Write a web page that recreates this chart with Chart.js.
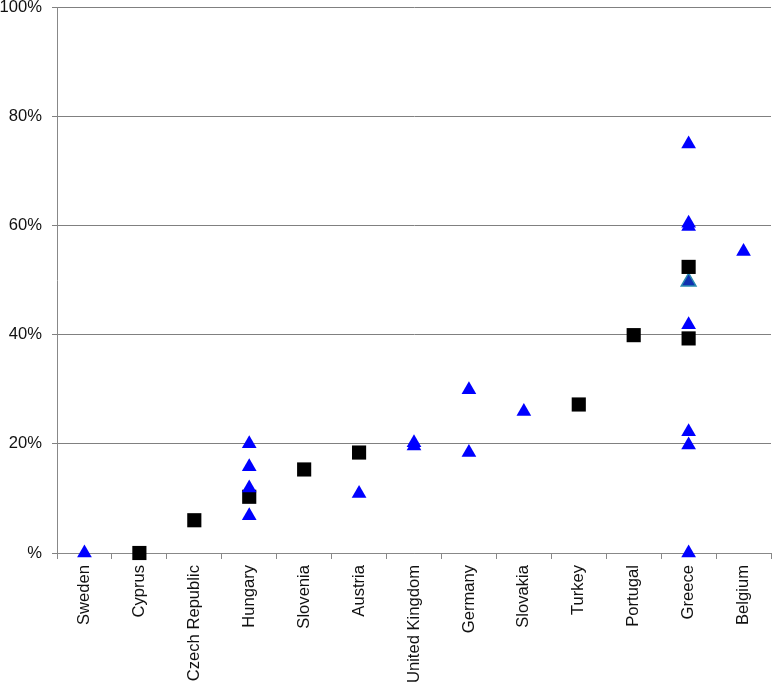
<!DOCTYPE html>
<html>
<head>
<meta charset="utf-8">
<script src="https://cdn.jsdelivr.net/npm/chart.js@4/dist/chart.umd.min.js"></script>
<style>
  body { margin: 0; background: #fff; }
  #box { width: 776px; height: 685px; }
</style>
</head>
<body>
<div id="box"><canvas id="myChart"></canvas></div>
<script>
let countries = ["Sweden", "Cyprus", "Czech Republic", "Hungary", "Slovenia", "Austria",
  "United Kingdom", "Germany", "Slovakia", "Turkey", "Portugal", "Greece", "Belgium"]

// black squares
let squareCountries = ["Cyprus", "Czech Republic", "Hungary", "Slovenia", "Austria", "Turkey", "Portugal", "Greece", "Greece"]
let squareValues = [0, 6, 10.3, 15.3, 18.4, 27.2, 39.9, 52.4, 39.3]

// blue triangles
let triCountries = ["Sweden", "Hungary", "Hungary", "Hungary", "Hungary", "Austria",
  "United Kingdom", "United Kingdom", "Germany", "Germany", "Slovakia",
  "Greece", "Greece", "Greece", "Greece", "Greece", "Greece", "Greece", "Belgium"]
let triValues = [0, 20, 15.8, 11.9, 6.8, 10.9,
  20.2, 19.6, 29.9, 18.4, 25.9,
  74.9, 60.4, 59.8, 41.8, 22.2, 19.8, 0, 55.2]

// the one triangle with a darker edge (sits under the square)
let edgeTriCountries = ["Greece"]
let edgeTriValues = [49.7]

let yTicks = [0, 20, 40, 60, 80, 100]

function points(cats, vals) {
  return cats.map((c, i) => ({ x: c, y: vals[i] }))
}

const ctx = document.getElementById('myChart');

new Chart(ctx, {
  type: 'line',
  data: {
    labels: countries,
    datasets: [
      {
        label: 'triangles',
        data: points(triCountries, triValues),
        showLine: false,
        clip: false,
        pointStyle: 'triangle',
        pointRadius: 8.5,
        pointBackgroundColor: '#0000ff',
        pointBorderColor: '#0000ff',
        pointBorderWidth: 0
      },
      {
        label: 'squares',
        data: points(squareCountries, squareValues),
        showLine: false,
        clip: false,
        pointStyle: 'rect',
        pointRadius: 10,
        pointBackgroundColor: '#000000',
        pointBorderColor: '#000000',
        pointBorderWidth: 0
      },
      {
        label: 'edge',
        data: points(edgeTriCountries, edgeTriValues),
        showLine: false,
        clip: false,
        pointStyle: 'triangle',
        pointRadius: 8.5,
        pointBackgroundColor: '#1030b0',
        pointBorderColor: '#2a8ab0',
        pointBorderWidth: 1.5
      }
    ]
  },
  options: {
    responsive: true,
    maintainAspectRatio: false,
    animation: false,
    layout: { autoPadding: false, padding: { top: 0, right: 5, bottom: 0, left: 0 } },
    plugins: {
      legend: { display: false },
      tooltip: { enabled: false }
    },
    scales: {
      x: {
        type: 'category',
        offset: true,
        afterFit: axis => {
          axis.height = 132
          axis.paddingLeft = 0
          axis.paddingRight = 0
        },
        grid: {
          offset: true,
          drawOnChartArea: false,
          drawTicks: true,
          tickLength: 6,
          color: '#888'
        },
        border: { color: '#888', width: 1 },
        ticks: {
          autoSkip: false,
          minRotation: 90,
          maxRotation: 90,
          padding: 6,
          color: '#111',
          font: { family: 'Liberation Sans, Arial, sans-serif', size: 16.6 }
        }
      },
      y: {
        min: 0,
        max: 100,
        afterBuildTicks: axis => { axis.ticks = yTicks.map(v => ({ value: v })) },
        afterFit: axis => {
          axis.width = 57
          axis.paddingTop = 7
          axis.paddingBottom = 0
        },
        grid: {
          color: '#808080',
          lineWidth: 1,
          tickLength: 5
        },
        border: { color: '#888', width: 1 },
        ticks: {
          padding: 10,
          color: '#111',
          font: { family: 'Liberation Sans, Arial, sans-serif', size: 16.6 },
          callback: v => v === 0 ? '%' : v + '%'
        }
      }
    }
  }
});
</script>
</body>
</html>
